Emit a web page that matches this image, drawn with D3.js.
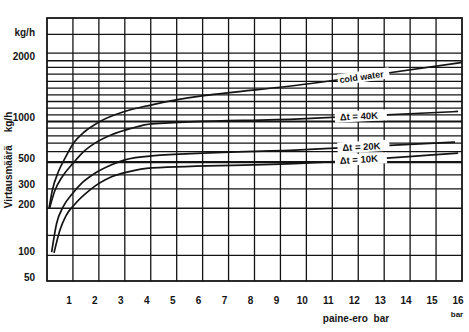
<!DOCTYPE html>
<html>
<head>
<meta charset="utf-8">
<script src="https://cdn.jsdelivr.net/npm/d3@7"></script>
<style>
  html, body { margin: 0; padding: 0; background: #fff; }
  svg { display: block; font-family: "Liberation Sans", Arial, Helvetica, sans-serif; font-weight: bold; }
</style>
</head>
<body>
<svg id="chart" width="469" height="332"></svg>
<script>
// ---- data -------------------------------------------------------------
const barTicks  = [1, 2, 3, 4, 5, 6, 7, 8, 9, 10, 11, 12, 13, 14, 15, 16];
const flowTicks = [50, 100, 200, 300, 500, 1000, 2000];
const flowGrid  = [100, 150, 200, 300, 400, 500, 600, 700, 800, 900, 1000,
                   1100, 1200, 1300, 1400, 1500, 1600, 1700, 1800, 1900, 2000, 2500];
const flowHeavy = [500, 1000];

// ruling of the chart paper: flow value -> share of the plot height
const rulingValues  = [50, 100, 150, 200, 300, 400, 500, 600, 700, 800, 900, 1000,
                       1100, 1200, 1300, 1400, 1500, 1600, 1700, 1800, 1900, 2000, 2500, 3000];
const rulingHeights = [0, 0.0978, 0.1732, 0.2767, 0.3502, 0.4035, 0.4519, 0.4922, 0.5242,
                       0.5520, 0.5813, 0.6064, 0.6319, 0.6574, 0.6825, 0.7080, 0.7335,
                       0.7587, 0.7864, 0.8120, 0.8375, 0.8668, 0.9376, 1];

// [pressure difference (bar), flow (kg/h)]
const coldWater = [[0.08, 200], [0.2, 290], [0.45, 430], [0.7, 540], [1.0, 690], [1.46, 856],
                   [2.04, 1000], [3.0, 1150], [4.04, 1250], [10.1, 1565], [13.0, 1710], [16, 1875]];
const dt40 = [[0.1, 200], [0.3, 290], [0.6, 390], [1.0, 490], [1.4, 597], [1.85, 700],
              [2.49, 813], [3.27, 900], [4.04, 965], [9.75, 1040], [15.85, 1150]];
const dt20 = [[0.18, 108], [0.37, 172], [0.62, 207], [1.0, 279], [1.34, 341], [1.85, 413],
              [2.49, 479], [3.0, 522], [4.04, 559], [9.75, 620], [15.73, 714]];
const dt10 = [[0.27, 106], [0.5, 160], [0.73, 186], [1.08, 222], [1.66, 295], [2.49, 386],
              [3.13, 424], [4.04, 455], [9.75, 490], [15.85, 585]];

const seriesNames = ["cold water", "\u0394t = 40K", "\u0394t = 20K", "\u0394t = 10K"];
const seriesData  = [coldWater, dt40, dt20, dt10];
const labelAtBar  = [12.2, 12.1, 12.2, 12.1];

// ---- layout -----------------------------------------------------------
const W = 469, H = 332;
const plot = { left: 47, right: 462, top: 18, bottom: 281 };

const svg = d3.select("#chart");
svg.append("rect").attr("width", W).attr("height", H).attr("fill", "#fff");

const x = d3.scaleLinear().domain([0, 16]).range([plot.left, plot.right]);
const y = d3.scaleLinear()
  .domain(rulingValues)
  .range(rulingHeights.map(f => plot.bottom - f * (plot.bottom - plot.top)));

const ink = "#141414";

// grid
const grid = svg.append("g");
grid.selectAll("line.h").data(flowGrid).join("line")
  .attr("x1", plot.left).attr("x2", plot.right)
  .attr("y1", d => y(d)).attr("y2", d => y(d))
  .attr("stroke", ink)
  .attr("stroke-width", d => flowHeavy.includes(d) ? 2.1 : 1.3);
grid.selectAll("line.v").data(barTicks.slice(0, -1)).join("line")
  .attr("x1", d => x(d)).attr("x2", d => x(d))
  .attr("y1", plot.top).attr("y2", plot.bottom)
  .attr("stroke", ink).attr("stroke-width", 1.3);

// frame
svg.append("rect")
  .attr("x", plot.left).attr("y", plot.top)
  .attr("width", plot.right - plot.left).attr("height", plot.bottom - plot.top)
  .attr("fill", "none").attr("stroke", ink).attr("stroke-width", 1.8);

// curves
const line = d3.line().x(d => x(d[0])).y(d => y(d[1])).curve(d3.curveMonotoneX);
svg.append("g").selectAll("path").data(seriesData).join("path")
  .attr("d", line)
  .attr("fill", "none").attr("stroke", ink).attr("stroke-width", 1.7);

// curve labels sitting on the curves
function flowAt(series, b) {
  for (let i = 1; i < series.length; i++) {
    if (b <= series[i][0]) {
      const [b0, f0] = series[i - 1], [b1, f1] = series[i];
      return f0 + (f1 - f0) * (b - b0) / (b1 - b0);
    }
  }
  return series[series.length - 1][1];
}
const labels = svg.append("g");
seriesData.forEach((s, i) => {
  const b = labelAtBar[i];
  const cx = x(b), cy = y(flowAt(s, b));
  const ang = Math.atan2(y(flowAt(s, b + 1)) - y(flowAt(s, b - 1)), x(b + 1) - x(b - 1)) * 180 / Math.PI;
  const g = labels.append("g").attr("transform", `translate(${cx},${cy}) rotate(${ang})`);
  g.append("rect").attr("x", -26).attr("y", -5.5).attr("width", 52).attr("height", 11).attr("fill", "#fff");
  g.append("text").attr("x", -2).attr("y", 3.4)
    .attr("text-anchor", "middle").attr("font-size", i === 0 ? 9 : 9.5)
    .attr("fill", ink).text(seriesNames[i]);
});

// y tick labels
const yNudge = { 2000: 7.5 };
svg.append("g").selectAll("text").data(flowTicks).join("text")
  .attr("x", 35).attr("y", d => y(d) - 0.5 + (yNudge[d] || 0))
  .attr("text-anchor", "end").attr("font-size", 10).attr("fill", ink)
  .text(d => d);
svg.append("text").attr("x", 35).attr("y", 35.5)
  .attr("text-anchor", "end").attr("font-size", 10).attr("fill", ink).text("kg/h");

// x tick labels
svg.append("g").selectAll("text").data(barTicks).join("text")
  .attr("x", d => x(d) - 4).attr("y", 303.5)
  .attr("text-anchor", "middle").attr("font-size", 10).attr("fill", ink)
  .text(d => d);
svg.append("text").attr("x", 457).attr("y", 316.5)
  .attr("text-anchor", "middle").attr("font-size", 8).attr("fill", ink).text("bar");

// axis titles
svg.append("text").attr("x", 356).attr("y", 322)
  .attr("text-anchor", "middle").attr("font-size", 10).attr("word-spacing", 3)
  .attr("fill", ink).text("paine-ero bar");
svg.append("text").attr("transform", "translate(12,160) rotate(-90)")
  .attr("text-anchor", "middle").attr("font-size", 10).attr("word-spacing", 10)
  .attr("fill", ink).text("Virtausmäärä kg/h");
</script>
</body>
</html>
